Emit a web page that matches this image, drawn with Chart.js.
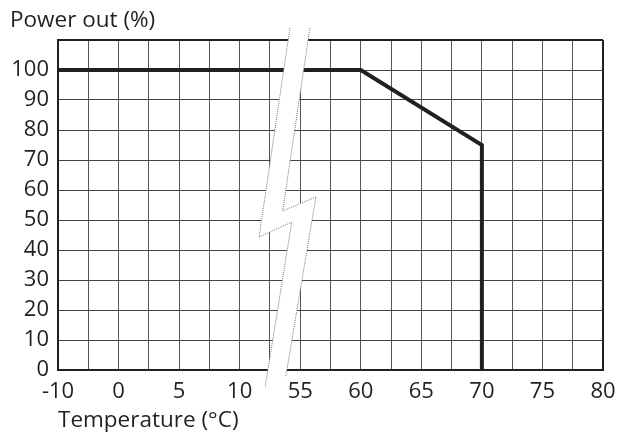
<!DOCTYPE html>
<html>
<head>
<meta charset="utf-8">
<script src="https://cdn.jsdelivr.net/npm/chart.js@4.4.1/dist/chart.umd.min.js"></script>
<style>
    html, body { margin: 0; padding: 0; background: #ffffff; }
    #wrap { width: 621px; height: 432px; }
</style>
</head>
<body>
<div id="wrap"><canvas id="derating" width="621" height="432"></canvas></div>
<script>
// Axis tick labels (temperature axis has a break between 10 and 55)
const xLabels = [-10, 0, 5, 10, 55, 60, 65, 70, 75, 80];
const yMax = 110;

// Derating curve
const curveTemp = [-10, 60, 70, 70];
const curvePower = [100, 100, 75, 0];

// Break mark outline, in axis units (tick index, power %)
const breakLeft = [[3.83, 114], [3.32, 44.3], [3.86, 49.3], [3.42, -5.7]];
const breakRight = [[4.16, 114], [3.71, 53], [4.26, 57.7], [3.76, -2.3]];

const ink = '#231f20';
const font = "'Open Sans', 'Noto Sans', sans-serif";

// Temperature -> position on the broken axis (tick index)
function tempToPos(t) {
    for (let i = 0; i < xLabels.length - 1; i++) {
        if (t >= xLabels[i] && t <= xLabels[i + 1]) {
            return i + (t - xLabels[i]) / (xLabels[i + 1] - xLabels[i]);
        }
    }
    return t < xLabels[0] ? 0 : xLabels.length - 1;
}

// White lightning-shaped break drawn across the plot
const axisBreak = {
    id: 'axisBreak',
    afterDraw(chart) {
        const { ctx } = chart;
        const xs = chart.scales.x;
        const ys = chart.scales.y;
        const px = p => [xs.getPixelForValue(p[0]), ys.getPixelForValue(p[1])];
        const left = breakLeft.map(px);
        const right = breakRight.map(px);

        ctx.save();
        ctx.beginPath();
        left.forEach((p, i) => i ? ctx.lineTo(p[0], p[1]) : ctx.moveTo(p[0], p[1]));
        right.slice().reverse().forEach(p => ctx.lineTo(p[0], p[1]));
        ctx.closePath();
        ctx.fillStyle = '#ffffff';
        ctx.fill();

        ctx.strokeStyle = '#777777';
        ctx.lineWidth = 1;
        ctx.setLineDash([1, 1]);
        [left, right].forEach(edge => {
            ctx.beginPath();
            edge.forEach((p, i) => i ? ctx.lineTo(p[0], p[1]) : ctx.moveTo(p[0], p[1]));
            ctx.stroke();
        });
        ctx.restore();
    }
};

new Chart(document.getElementById('derating'), {
    type: 'line',
    data: {
        datasets: [{
            data: curveTemp.map((t, i) => ({ x: tempToPos(t), y: curvePower[i] })),
            borderColor: ink,
            borderWidth: 4,
            pointRadius: 0,
            tension: 0,
            fill: false,
            clip: false
        }]
    },
    options: {
        responsive: false,
        animation: false,
        layout: { padding: { left: 10, right: 18, top: 0, bottom: 0 } },
        plugins: {
            legend: { display: false },
            tooltip: { enabled: false },
            title: {
                display: true,
                text: 'Power out (%)',
                align: 'start',
                color: ink,
                font: { family: font, size: 22.5, weight: 'normal' },
                padding: { top: 7, bottom: 6 }
            }
        },
        scales: {
            x: {
                type: 'linear',
                min: 0,
                max: xLabels.length - 1,
                afterFit(scale) {
                    scale.height = 62;
                    scale.paddingLeft = 0;
                    scale.paddingRight = 0;
                },
                grid: {
                    drawTicks: false,
                    color: ctx => ctx.tick && ctx.tick.value === xLabels.length - 1 ? ink : '#555555',
                    lineWidth: ctx => ctx.tick && ctx.tick.value === xLabels.length - 1 ? 2 : 1
                },
                border: { color: ink, width: 2 },
                ticks: {
                    stepSize: 0.5,
                    autoSkip: false,
                    maxRotation: 0,
                    padding: 9,
                    color: ink,
                    font: { family: font, size: 22 },
                    callback: v => Number.isInteger(v) ? String(xLabels[v]) : ''
                },
                title: {
                    display: true,
                    text: 'Temperature (°C)',
                    align: 'start',
                    color: ink,
                    font: { family: font, size: 22.5, lineHeight: 1 },
                    padding: { top: 0, bottom: 0 }
                }
            },
            y: {
                min: 0,
                max: yMax,
                afterFit(scale) { scale.width = 48; },
                grid: {
                    drawTicks: false,
                    color: ctx => ctx.tick && ctx.tick.value === yMax ? ink : '#444444',
                    lineWidth: ctx => ctx.tick && ctx.tick.value === yMax ? 2 : 1
                },
                border: { color: ink, width: 2 },
                ticks: {
                    stepSize: 10,
                    padding: 9,
                    color: ink,
                    font: { family: font, size: 22 },
                    callback: v => v <= 100 ? String(v) : ''
                }
            }
        }
    },
    plugins: [axisBreak]
});
</script>
</body>
</html>
